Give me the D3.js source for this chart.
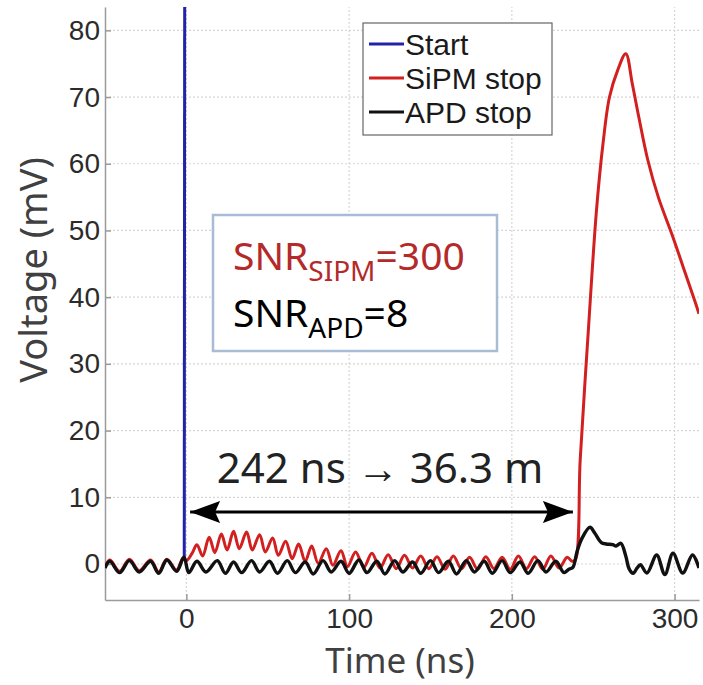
<html>
<script src='https://d3js.org/d3.v7.min.js'></script>
<style>
  body { margin: 0; background: white; }
  .axis text { font-family: 'Liberation Sans', Arial, sans-serif; font-size: 28px; fill: #2b2b2b; }
  .axis path, .axis line { stroke: #9a9a9a; stroke-width: 1.5; }
  .grid line { stroke: #d6d6d6; stroke-width: 1.2; stroke-dasharray: 2,2; }
  .legend text { font-family: 'Liberation Sans', Arial, sans-serif; font-size: 30px; fill: #1a1a1a; }
  .title { font-family: 'Noto Sans', 'Open Sans', sans-serif; fill: #404040; }
</style>
<body>
<svg width=703 height=685></svg>
<script>
// tick values
const xTicks = [0, 100, 200, 300];
const yTicks = [0, 10, 20, 30, 40, 50, 60, 70, 80];

// Start (blue) - trigger edge
const startTime = [-1.3, -1.0];
const startVolt = [0.8, 95];

// SiPM stop (red)
const sipmTime = [-50, -47, -41, -35, -29, -22, -17, -12, -6, -2, 0,
  3.5, 6.5, 10, 14, 17.5, 21.5, 25, 29, 32.5, 37, 40.5, 45, 48.5, 53, 56.5, 61, 65, 69, 73, 77, 81, 86, 90, 95, 99,
  104, 109, 114, 119, 124, 129, 134, 139, 144, 149, 154, 159, 164, 169, 174, 179, 184, 189, 194, 199,
  204, 209, 214, 219, 224, 229, 234, 237, 239,
  242, 247, 252, 256, 260, 265, 270, 274, 278, 283.5, 290, 299, 306, 313, 315];
const sipmVolt = [-0.4, 0.6, -1.1, 0.7, -1.0, 0.6, -1.2, 0.7, -0.9, 0.9, 0.5,
  1.6, 2.9, 1.2, 4.0, 1.7, 4.5, 2.1, 4.9, 2.3, 4.8, 2.1, 4.4, 1.8, 3.9, 1.3, 3.4, 0.8, 3.0, 0.4, 2.7, 0.1, 2.3, -0.2, 2.0, -0.4,
  1.8, -0.5, 1.6, -0.6, 1.4, -0.7, 1.3, -0.6, 1.2, -0.7, 1.1, -0.8, 1.2, -0.7, 1.0, -0.8, 1.1, -0.7, 1.0, -0.8,
  1.2, -0.7, 1.1, -0.8, 1.2, -0.6, 1.0, 0.4, 0.6,
  15.6, 35, 53, 63, 70, 74, 76.5, 72, 67, 60.6, 55, 49, 44, 39, 37.5];

// APD stop (black)
const apdTime = [-50, -47, -41, -35, -29, -22, -17, -12, -6, -1.5, 1.5, 6.5, 12, 19, 24, 29, 34, 40, 45, 51, 56, 62, 67,
  73, 78, 84, 89, 95, 100, 106, 111, 117, 122, 128, 133, 139, 144, 150, 155, 161, 166, 172, 177, 183, 188,
  194, 199, 205, 210, 216, 221, 227, 232, 235, 237.5,
  240, 243, 248, 251, 255, 258, 262, 264, 267, 270, 272, 274.5, 277, 279, 283, 289, 294, 299, 305, 311, 315];
const apdVolt = [-0.6, 0.4, -1.3, 0.5, -1.2, 0.4, -1.4, 0.6, -1.1, 1.0, -1.3, 0.4, -1.2, 0.5, -1.4, 0.3, -1.3, 0.5, -1.2, 0.4, -1.4, 0.5, -1.3,
  0.3, -1.5, 0.5, -1.2, 0.4, -1.4, 0.6, -1.3, 0.4, -1.5, 0.5, -1.2, 0.3, -1.4, 0.5, -1.3, 0.4, -1.5, 0.5, -1.2, 0.4, -1.4,
  0.5, -1.3, 0.3, -1.4, 0.5, -1.2, 0.4, -1.3, -0.8, -0.5,
  1.8, 3.8, 5.5, 4.6, 3.2, 3.0, 2.9, 2.7, 3.1, 1.2, -0.7, -1.4, -0.6, -0.1, -1.35, 1.35, -1.6, 1.6, -1.35, 1.35, -0.6];

const seriesNames = ["Start", "SiPM stop", "APD stop"];
const seriesColors = ["#2323a8", "#d21f1f", "#111111"];
const seriesWidths = [3, 3, 3.4];

const svg = d3.select("svg");
const xs = d3.scaleLinear([-50, 315], [105, 699]);
const ys = d3.scaleLinear([-5.4, 83.5], [600, 7]);

svg.append("rect").attr("width", 703).attr("height", 685).attr("fill", "white");

svg.append("clipPath").attr("id", "plotclip")
  .append("rect").attr("x", 105).attr("y", 7).attr("width", 594).attr("height", 593);

// grid
const grid = svg.append("g").attr("class", "grid");
grid.selectAll(".gy").data(yTicks).enter().append("line")
  .attr("x1", xs(-50)).attr("x2", xs(315))
  .attr("y1", d => ys(d)).attr("y2", d => ys(d));
grid.selectAll(".gx").data(xTicks).enter().append("line")
  .attr("x1", d => xs(d)).attr("x2", d => xs(d))
  .attr("y1", ys(-5.4)).attr("y2", ys(83.5));

// axes
svg.append("g").attr("class", "axis")
  .attr("transform", "translate(105,0)")
  .call(d3.axisLeft(ys).tickValues(yTicks).tickSizeInner(-6).tickSizeOuter(0).tickPadding(5));
svg.append("g").attr("class", "axis")
  .attr("transform", "translate(0,600)")
  .call(d3.axisBottom(xs).tickValues(xTicks).tickSizeInner(-6).tickSizeOuter(0).tickPadding(8));

// SNR box
svg.append("rect").attr("x", 213).attr("y", 215).attr("width", 284).attr("height", 136)
  .attr("fill", "white").attr("stroke", "#a8bcd6").attr("stroke-width", 2.5);

// traces
const line = d3.line().x(d => xs(d[0])).y(d => ys(d[1])).curve(d3.curveCatmullRom.alpha(0.5));
const traces = svg.append("g").attr("clip-path", "url(#plotclip)");
[[startTime, startVolt], [sipmTime, sipmVolt], [apdTime, apdVolt]].forEach((s, i) => {
  traces.append("path")
    .attr("d", line(d3.zip(s[0], s[1])))
    .attr("fill", "none")
    .attr("stroke", seriesColors[i])
    .attr("stroke-width", seriesWidths[i])
    .attr("stroke-linejoin", "round");
});

// legend
const legend = svg.append("g").attr("class", "legend");
legend.append("rect").attr("x", 363).attr("y", 23).attr("width", 189).attr("height", 112)
  .attr("fill", "white").attr("stroke", "#666").attr("stroke-width", 1.2);
seriesNames.forEach((name, i) => {
  legend.append("line").attr("x1", 369).attr("x2", 404)
    .attr("y1", 44 + i * 34).attr("y2", 44 + i * 34)
    .attr("stroke", seriesColors[i]).attr("stroke-width", 3);
  legend.append("text").attr("x", 405).attr("y", 55 + i * 34).text(name);
});

// SNR text
const snr1 = svg.append("text").attr("class", "title").attr("x", 233).attr("y", 270)
  .attr("font-size", 39).style("fill", "#b42a2a");
snr1.append("tspan").text("SNR");
snr1.append("tspan").attr("font-size", 28).attr("dy", 11).text("SIPM");
snr1.append("tspan").attr("dy", -11).text("=300");
const snr2 = svg.append("text").attr("class", "title").attr("x", 233).attr("y", 327)
  .attr("font-size", 39).style("fill", "#000");
snr2.append("tspan").text("SNR");
snr2.append("tspan").attr("font-size", 28).attr("dy", 11).text("APD");
snr2.append("tspan").attr("dy", -11).text("=8");

// double arrow
svg.append("defs").append("marker")
  .attr("id", "head").attr("viewBox", "0 -12 30 24")
  .attr("refX", 30).attr("refY", 0)
  .attr("markerUnits", "userSpaceOnUse")
  .attr("markerWidth", 30).attr("markerHeight", 24)
  .attr("orient", "auto-start-reverse")
  .append("path").attr("d", "M0,-11 L30,0 L0,11 L5,0 Z").attr("fill", "#000");
svg.append("line")
  .attr("x1", xs(2.3)).attr("x2", xs(237.5))
  .attr("y1", ys(7.8)).attr("y2", ys(7.8))
  .attr("stroke", "#000").attr("stroke-width", 3)
  .attr("marker-start", "url(#head)").attr("marker-end", "url(#head)");
svg.append("text").attr("class", "title")
  .attr("x", 380).attr("y", 483).attr("text-anchor", "middle")
  .attr("font-size", 42).style("fill", "#222")
  .text("242 ns \u2192 36.3 m");

// axis titles
svg.append("text").attr("class", "title")
  .attr("transform", "translate(47,270) rotate(-90)")
  .attr("text-anchor", "middle").attr("font-size", 38)
  .text("Voltage (mV)");
svg.append("text").attr("class", "title")
  .attr("x", 400).attr("y", 673).attr("text-anchor", "middle").attr("font-size", 35)
  .text("Time (ns)");
</script>
</body>
</html>
